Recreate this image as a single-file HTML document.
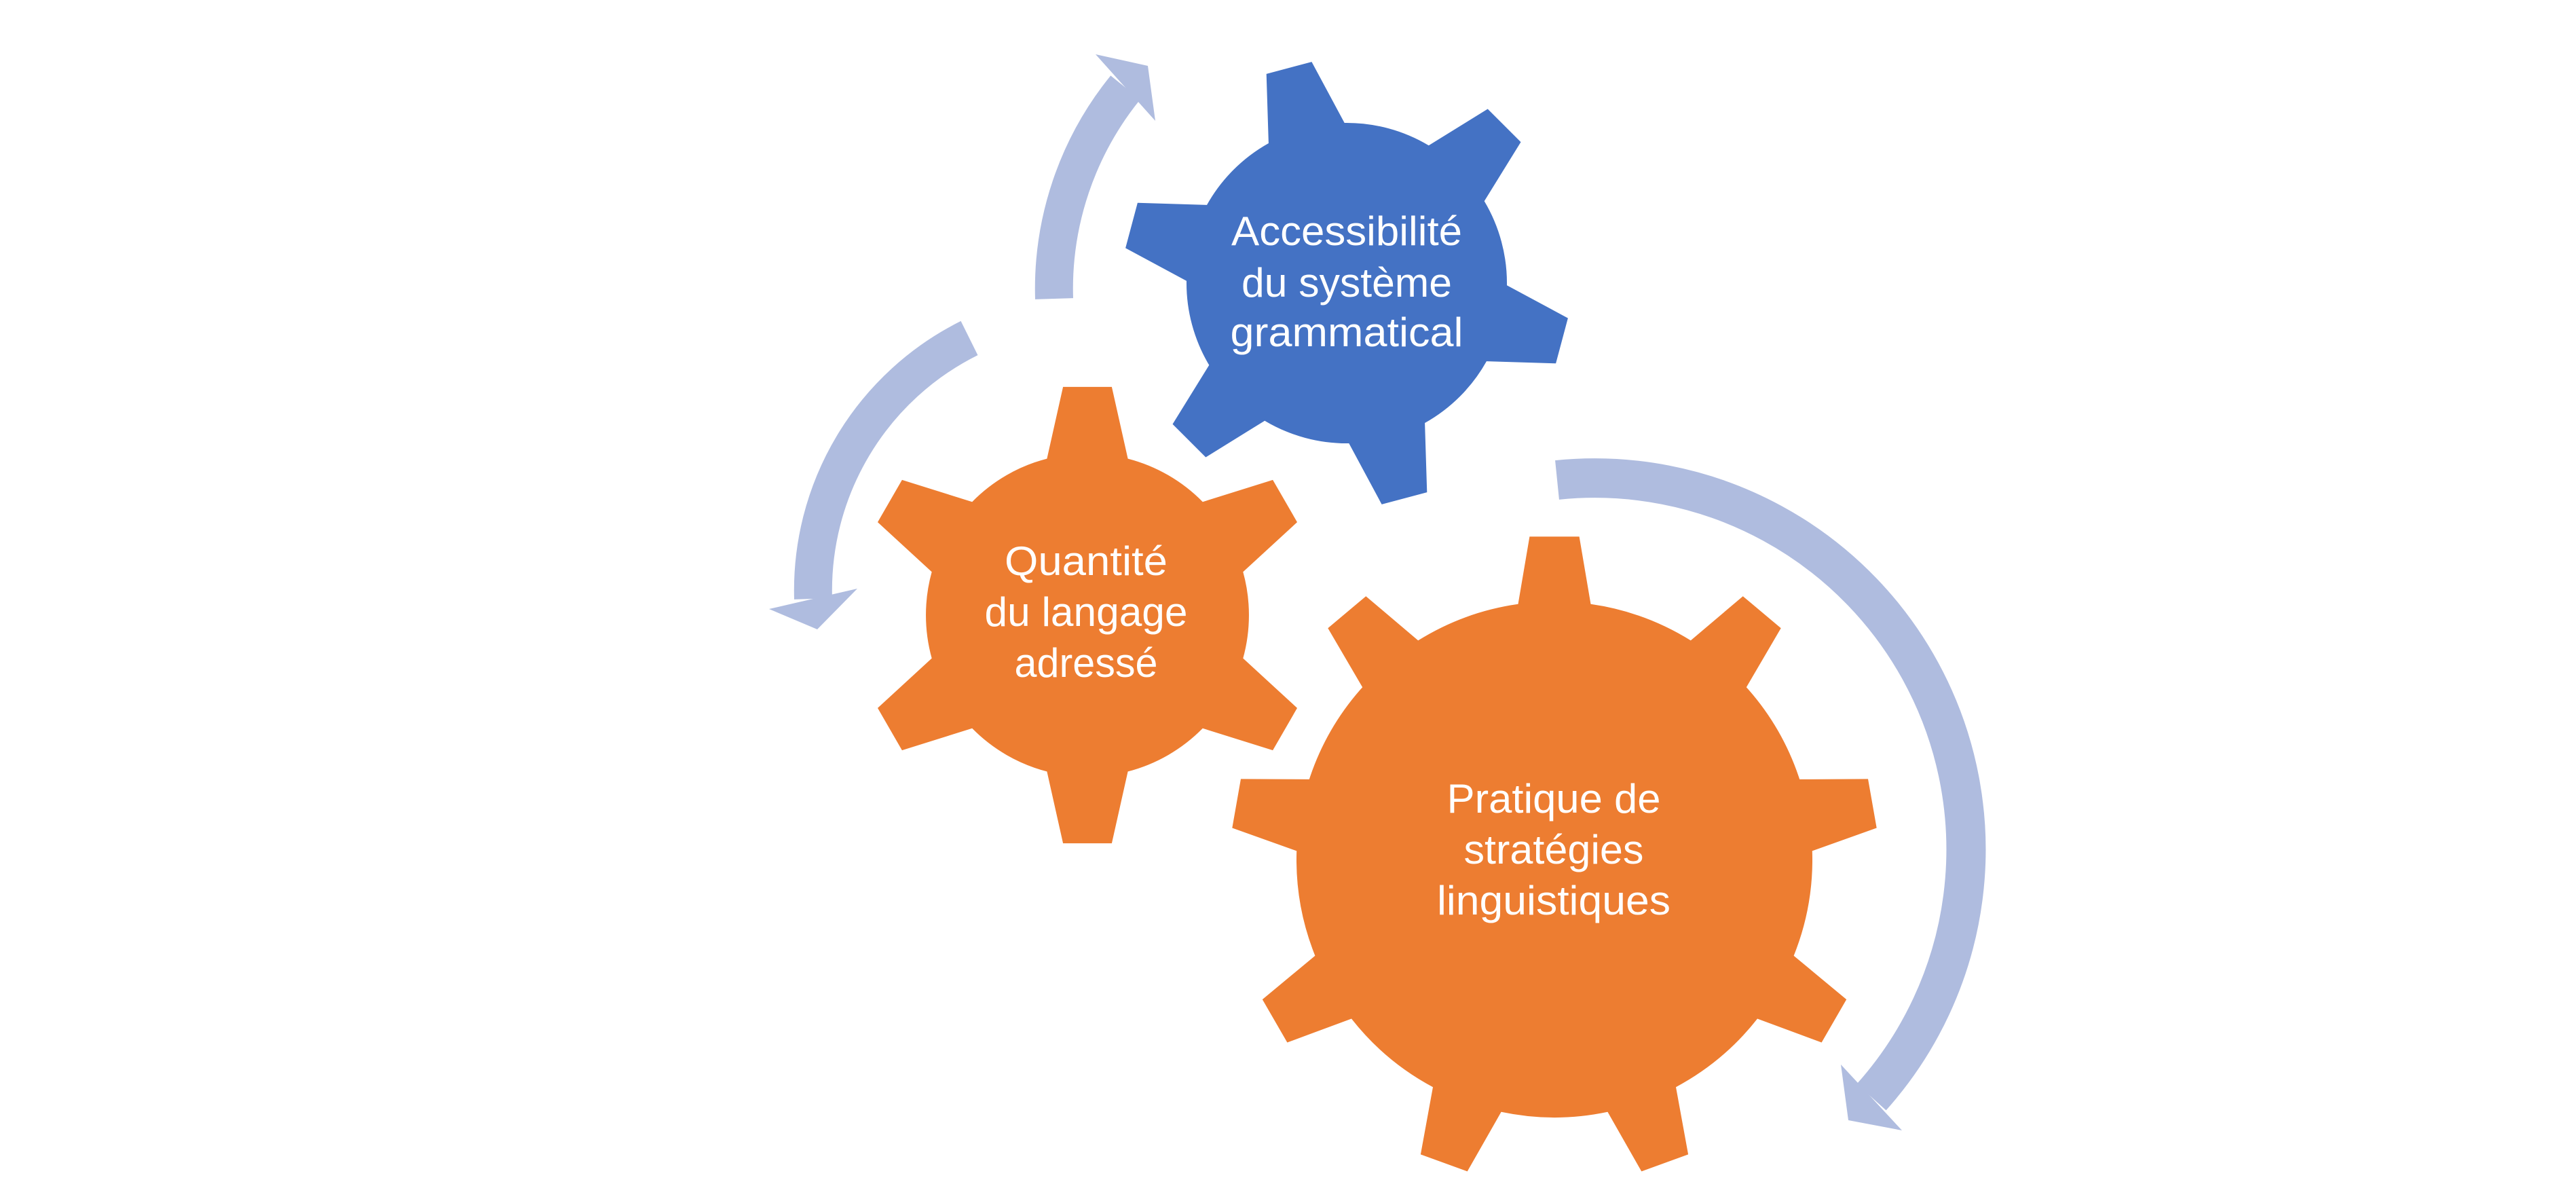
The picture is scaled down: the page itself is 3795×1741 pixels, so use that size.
<!DOCTYPE html>
<html><head><meta charset="utf-8"><style>
html,body{margin:0;padding:0;background:#fff;}
svg{display:block}
text{font-family:"Liberation Sans",sans-serif;fill:#fff;font-size:60px;text-anchor:middle}
</style></head><body>
<svg id="s" width="3795" height="1741" viewBox="0 0 3795 1741" xmlns="http://www.w3.org/2000/svg">
<g fill="none" stroke="#AFBCDF" stroke-width="56">
<path d="M1553,440 A470,470 0 0 1 1658,129"/>
<path d="M1428,498 A415,415 0 0 0 1198,882"/>
<path d="M2294,707 A547,547 0 0 1 2757,1616" stroke-width="58"/>
</g>
<g fill="#AFBCDF">
<polygon points="1614,80 1691,97 1702,178"/>
<polygon points="1133,897 1204,927 1263,867"/>
<polygon points="2712,1568 2723,1650 2802,1665"/>
</g>
<path id="g1" fill="#4472C4"/>
<path id="g2" fill="#ED7D31"/>
<path id="g3" fill="#ED7D31"/>
<text x="1984" y="361" textLength="340" lengthAdjust="spacingAndGlyphs">Accessibilité</text>
<text x="1984" y="437" textLength="310" lengthAdjust="spacingAndGlyphs">du système</text>
<text x="1984" y="510" textLength="343" lengthAdjust="spacingAndGlyphs">grammatical</text>
<text x="1600" y="847" textLength="240" lengthAdjust="spacingAndGlyphs">Quantité</text>
<text x="1600" y="922" textLength="299" lengthAdjust="spacingAndGlyphs">du langage</text>
<text x="1600" y="997" textLength="211" lengthAdjust="spacingAndGlyphs">adressé</text>
<text x="2289" y="1197" textLength="315" lengthAdjust="spacingAndGlyphs">Pratique de</text>
<text x="2289" y="1272" textLength="265" lengthAdjust="spacingAndGlyphs">stratégies</text>
<text x="2289" y="1347" textLength="344" lengthAdjust="spacingAndGlyphs">linguistiques</text>
</svg>
<script>
function gear(id,cx,cy,R,Rt,n,a0,hb,ht){
  var d=r=>r*Math.PI/180, p="";
  function pt(a,r){return (cx+r*Math.cos(d(a))).toFixed(1)+","+(cy+r*Math.sin(d(a))).toFixed(1);}
  for(var i=0;i<n;i++){
    var a=a0+i*360/n;
    p+=(i==0?"M":"L")+pt(a-hb,R)+" L"+pt(a-ht,Rt)+" L"+pt(a+ht,Rt)+" L"+pt(a+hb,R)+" ";
    var na=a0+(i+1)*360/n;
    p+="A"+R+","+R+" 0 0 1 "+pt(na-hb,R)+" ";
  }
  document.getElementById(id).setAttribute("d",p+"Z");
}
gear("g1",1984,417,236,330,6,-105,14.2,6);
gear("g2",1602,906,238,338,6,-90,14.5,6.1);
gear("g3",2290,1266,380,477,9,-90,8.1,4.4);
</script>
</body></html>
